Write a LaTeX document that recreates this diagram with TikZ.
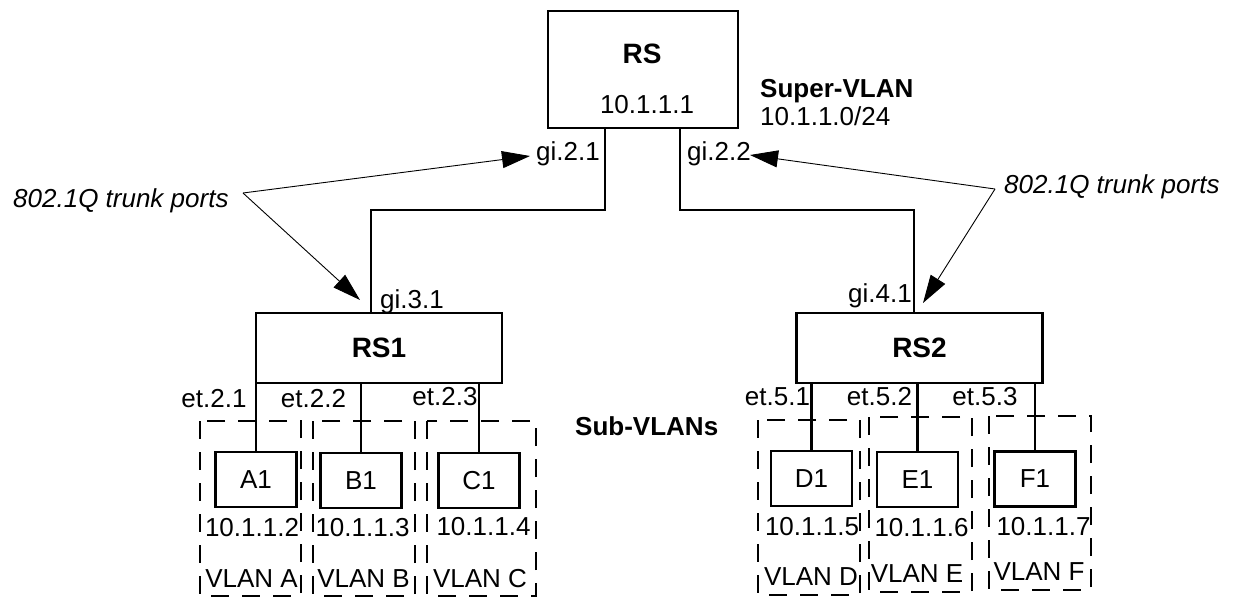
\documentclass[tikz,border=0pt]{standalone}
\usepackage{fontspec}
\setmainfont{Liberation Sans}
\usetikzlibrary{arrows.meta,positioning,calc}

\begin{document}
\begin{tikzpicture}[x=1pt,y=-1pt,
  box/.style={draw,line width=2.4pt,inner sep=0pt},
  host/.style={box,minimum width=81pt,minimum height=55pt,font=\fontsize{26}{30}\selectfont},
  router/.style={box,minimum width=246pt,minimum height=70pt,font=\fontsize{28}{32}\selectfont\bfseries},
  vlanbox/.style={line width=2pt,dash pattern=on 18pt off 13pt},
  link/.style={line width=2.2pt},
  lbl/.style={inner sep=0pt,font=\fontsize{26}{30}\selectfont},
  big/.style={inner sep=0pt,font=\fontsize{28}{32}\selectfont\bfseries},
  trunk/.style={line width=0.9pt,-{Triangle[length=28pt,width=17pt]}}]
  \useasboundingbox (0,0) rectangle (1238,597);
  % routers
  \node[box,minimum width=190pt,minimum height=117pt] (rs) at (643,69.5) {};
  \node[big,anchor=base] (rsname) at (642,63) {RS};
  \node[lbl,anchor=base] (rsip) at (647,113) {10.1.1.1};
  \node[router] (rs1) at (379,348) {RS1};
  \node[router] (rs2) at (919.5,348) {RS2};
  \node[lbl,anchor=base west,font=\fontsize{26}{30}\selectfont\bfseries] (super) at (760,97) {Super-VLAN};
  \node[lbl,anchor=base west] (supernet) at (760,125) {10.1.1.0/24};
  \node[lbl,anchor=base west,font=\fontsize{26}{30}\selectfont\bfseries] (sub) at (575,435) {Sub-VLANs};
  % trunk links
  \draw[link] ([xshift=-38pt]rs.south) -- ++(0,81) -| ([xshift=-8pt]rs1.north);
  \draw[link] ([xshift=37pt]rs.south) -- ++(0,81) -| ([xshift=-5.5pt]rs2.north);
  \node[lbl,anchor=base east] (gi21) at (600,160) {gi.2.1};
  \node[lbl,anchor=base west] (gi22) at (687,160) {gi.2.2};
  \node[lbl,anchor=base west] (gi31) at (380,308) {gi.3.1};
  \node[lbl,anchor=base east] (gi41) at (912,302) {gi.4.1};
  % 802.1Q callouts
  \node[lbl,anchor=base west,font=\fontsize{26}{30}\selectfont\itshape] (trunkL) at (13,207) {802.1Q trunk ports};
  \node[lbl,anchor=base west,font=\fontsize{26}{30}\selectfont\itshape] (trunkR) at (1004,193) {802.1Q trunk ports};
  \coordinate (apexL) at (243,193);
  \coordinate (apexR) at (995,189);
  \coordinate (tip21) at (530,156);
  \coordinate (tip31) at (360,300);
  \coordinate (tip22) at (750,155);
  \coordinate (tip41) at (923,303);
  \draw[trunk] (apexL) -- (tip21);
  \draw[trunk] (apexL) -- (tip31);
  \draw[trunk] (apexR) -- (tip22);
  \draw[trunk] (apexR) -- (tip41);
  % sub-VLAN groups
  \foreach \l/\r/\t/\b in {200/301/421/596, 313/415/421/596, 427/536/421/596,
                           758/860/420/595, 869/972/417/592, 989/1091/416/590}
    \draw[vlanbox] (\l,\t) rectangle (\r,\b);
  % hosts
  \foreach \h/\txt/\x/\y/\sw in {a1/A1/256/479.5/rs1, b1/B1/361/480.5/rs1, c1/C1/479/480.5/rs1,
                                 d1/D1/811.5/478.5/rs2, e1/E1/917.5/479.5/rs2, f1/F1/1035/479/rs2} {
    \node[host] (\h) at (\x,\y) {\txt};
    \draw[link] (\h.north) -- (\h.north |- \sw.south);
  }
  % port, address and vlan labels
  \foreach \n/\txt/\x/\y in {et21/et.2.1/214/407, et22/et.2.2/313.5/407, et23/et.2.3/445/405,
                             et51/et.5.1/777.5/405, et52/et.5.2/879.5/405, et53/et.5.3/985/405}
    \node[lbl,anchor=base] (\n) at (\x,\y) {\txt};
  \foreach \n/\txt/\x/\y in {ipa/10.1.1.2/252/536, ipb/10.1.1.3/362.5/536, ipc/10.1.1.4/483.5/535,
                             ipd/10.1.1.5/812/535, ipe/10.1.1.6/921.5/536, ipf/10.1.1.7/1043.5/535}
    \node[lbl,anchor=base] (\n) at (\x,\y) {\txt};
  \foreach \n/\txt/\x/\y in {vla/A/251.5/587, vlb/B/363.5/587, vlc/C/480/587,
                             vld/D/811/585, vle/E/917/582, vlf/F/1039/580}
    \node[lbl,anchor=base] (\n) at (\x,\y) {VLAN \txt};
\end{tikzpicture}
\end{document}
